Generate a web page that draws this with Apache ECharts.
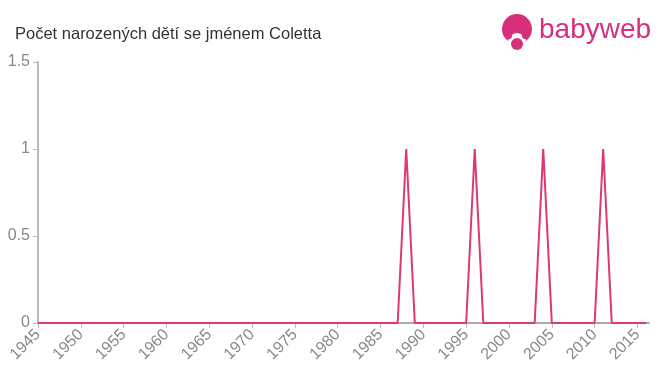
<!DOCTYPE html>
<html>
<head>
<meta charset="utf-8">
<script src="https://cdn.jsdelivr.net/npm/echarts@6/dist/echarts.min.js"></script>
<style>html,body{margin:0;padding:0;background:#fff}#c{width:660px;height:375px}</style>
</head>
<body>
<div id="c"></div>
<script>
const years = [1945,1946,1947,1948,1949,1950,1951,1952,1953,1954,1955,1956,1957,1958,1959,1960,1961,1962,1963,1964,1965,1966,1967,1968,1969,1970,1971,1972,1973,1974,1975,1976,1977,1978,1979,1980,1981,1982,1983,1984,1985,1986,1987,1988,1989,1990,1991,1992,1993,1994,1995,1996,1997,1998,1999,2000,2001,2002,2003,2004,2005,2006,2007,2008,2009,2010,2011,2012,2013,2014,2015,2016];
const counts = [0,0,0,0,0,0,0,0,0,0,0,0,0,0,0,0,0,0,0,0,0,0,0,0,0,0,0,0,0,0,0,0,0,0,0,0,0,0,0,0,0,0,0,1,0,0,0,0,0,0,0,1,0,0,0,0,0,0,0,1,0,0,0,0,0,0,1,0,0,0,0,0];
const xTickLabels = [1945,1950,1955,1960,1965,1970,1975,1980,1985,1990,1995,2000,2005,2010,2015];
const yTickLabels = [0,0.5,1,1.5];
const titleText = 'Počet narozených dětí se jménem Coletta';
const logoText = 'babyweb';

const chart = echarts.init(document.getElementById('c'), null, {renderer:'canvas'});
const pink = '#d6307a';
chart.setOption({
  animation:false,
  title:{text:titleText,left:10,top:21,textStyle:{fontFamily:'Liberation Sans, Arial, sans-serif',fontSize:16.5,fontWeight:'normal',color:'#333'}},
  graphic:[
    {type:'circle',shape:{cx:517,cy:29,r:15},style:{fill:pink}},
    {type:'circle',shape:{cx:517,cy:42,r:9},style:{fill:'#fff'}},
    {type:'circle',shape:{cx:509,cy:36,r:3},style:{fill:pink}},
    {type:'circle',shape:{cx:525,cy:36,r:3},style:{fill:pink}},
    {type:'circle',shape:{cx:517,cy:44,r:6},style:{fill:pink}},
    {type:'text',left:539,top:16,style:{text:logoText,fontFamily:'Liberation Sans, Arial, sans-serif',fontSize:28,fill:pink}}
  ],
  grid:{left:38,right:11,top:62,bottom:52,containLabel:false},
  xAxis:{type:'value',min:1945,max:2016.35,interval:5,
    axisLine:{lineStyle:{color:'#aaa',width:2}},
    axisTick:{show:true,length:5,lineStyle:{color:'#bbb'},customValues:xTickLabels},
    axisLabel:{rotate:45,fontSize:16,color:'#888',fontFamily:'Liberation Sans, Arial, sans-serif',margin:9,customValues:xTickLabels,formatter:v=>String(v)},
    splitLine:{show:false}},
  yAxis:{type:'value',min:0,max:1.5,interval:0.5,
    axisLine:{show:true,lineStyle:{color:'#bbb',width:2}},
    axisTick:{show:true,length:5,lineStyle:{color:'#bbb'}},
    axisLabel:{fontSize:16,color:'#888',fontFamily:'Liberation Sans, Arial, sans-serif',margin:8,customValues:yTickLabels},
    splitLine:{show:false}},
  series:[{type:'line',data:years.map((y,i)=>[y,counts[i]]),showSymbol:false,symbol:'none',
    lineStyle:{color:'#dc3a6e',width:2},z:3}]
});
</script>
</body>
</html>
